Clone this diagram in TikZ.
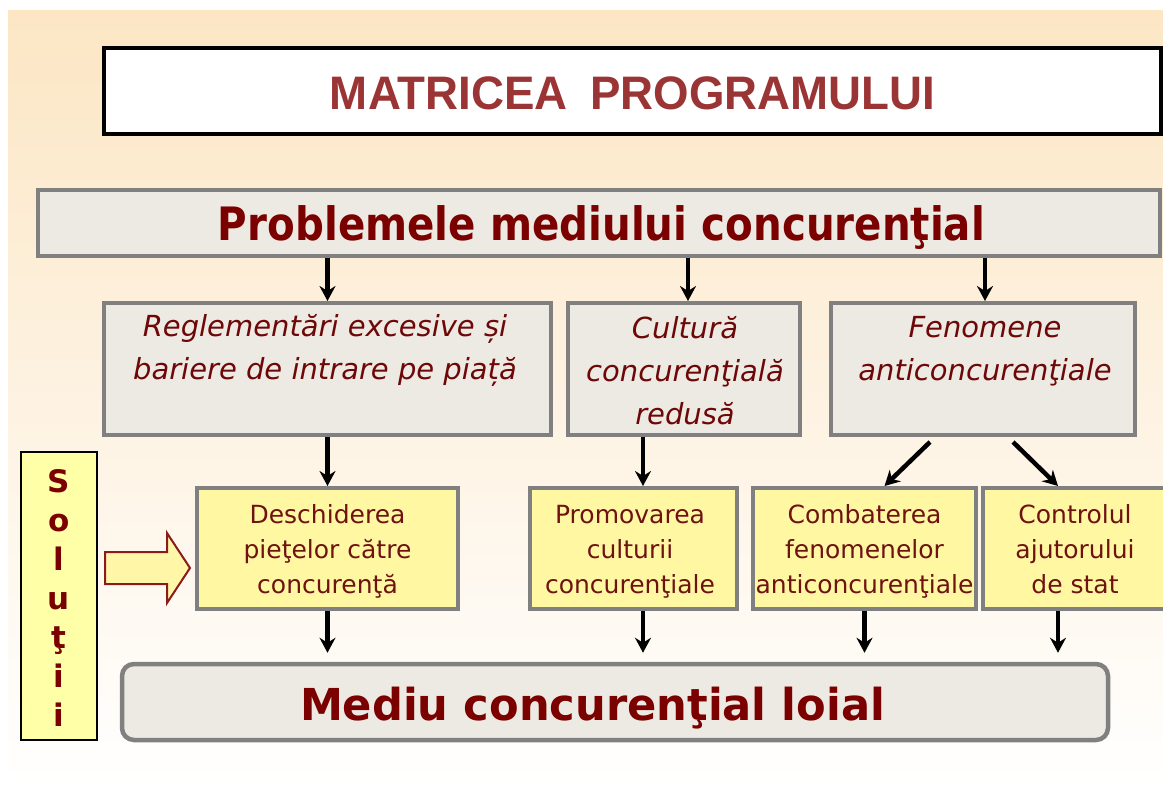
\documentclass[tikz,border=0pt]{standalone}
\usepackage{fontspec}
\usepackage{graphicx}
\usetikzlibrary{arrows.meta,calc}
\setmainfont{DejaVu Sans}
\newfontfamily\tah{DejaVu Sans}
\newfontfamily\ari{Liberation Sans}
\newcommand\hfit[2]{\resizebox{#1}{\height}{#2}}
\newcommand\tstrut[1]{\rule{0pt}{#1}}
\definecolor{bgtop}{HTML}{FCE6C4}
\definecolor{bgmid}{HTML}{FDF3E4}
\definecolor{grayfill}{HTML}{ECEAE2}
\definecolor{grayline}{HTML}{808080}
\definecolor{yel}{HTML}{FFF7A2}
\definecolor{yel2}{HTML}{FFFFA8}
\definecolor{dred}{HTML}{7B0000}
\definecolor{ired}{HTML}{6E0808}
\definecolor{yred}{HTML}{6E1212}
\definecolor{tred}{HTML}{9B3535}
\definecolor{ared}{HTML}{8B1A1A}
\definecolor{ayel}{HTML}{FFF6A8}
\tikzset{
  titlebox/.style={draw=black, line width=3.5pt, fill=white, inner sep=0pt},
  graybox/.style={draw=grayline, line width=4pt, fill=grayfill, inner sep=0pt},
  yelbox/.style={draw=grayline, line width=4pt, fill=yel, inner sep=0pt},
  solbox/.style={draw=black, line width=2pt, fill=yel2, inner sep=0pt},
  endbox/.style={draw=grayline, line width=4.5pt, fill=grayfill, rounded corners=12pt, inner sep=0pt},
  itxt/.style={anchor=north, inner sep=0pt, align=center, text=ired, font=\tah\itshape\fontsize{29}{43}\selectfont},
  ytxt/.style={anchor=north, inner sep=0pt, align=center, text=yred, font=\tah\fontsize{25}{35}\selectfont},
  arr/.style={draw=black, line width=4.5pt, -{Stealth[length=15pt,width=16pt,inset=5pt]}},
}
\begin{document}
\begin{tikzpicture}[x=1pt,y=-1pt]
\useasboundingbox (0,0) rectangle (1163,787);
\fill[white] (0,0) rectangle (1163,787);
\shade[top color=bgtop, middle color=bgmid, bottom color=white] (8,10) rectangle (1163,787);

% title
\node[titlebox, minimum width=1057pt, minimum height=86pt] (T) at (632.5,91) {};
\node[anchor=base, inner sep=0pt, text=tred, font=\ari\bfseries\fontsize{47}{47}\selectfont] (Tt) at (632.5,109) {\hfit{605pt}{MATRICEA\hspace{0.5em}PROGRAMULUI}};

% problems
\node[graybox, minimum width=1122pt, minimum height=66pt] (P) at (599,223) {};
\node[anchor=base, inner sep=0pt, text=dred, font=\tah\bfseries\fontsize{46}{46}\selectfont] (Pt) at (601.5,240) {\hfit{767pt}{Problemele mediului concurenţial}};

% row 2
\node[graybox, minimum width=447pt, minimum height=132pt] (A) at (327.5,369) {};
\node[graybox, minimum width=232pt, minimum height=132pt] (B) at (684,369) {};
\node[graybox, minimum width=304pt, minimum height=132pt] (C) at (983,369) {};
\node[itxt] (At) at (325,310) {\tstrut{26pt}Reglementări excesive și\\bariere de intrare pe piață};
\node[itxt] (Bt) at (685,312) {\tstrut{26pt}Cultură\\concurenţială\\redusă};
\node[itxt] (Ct) at (985,311) {\tstrut{26pt}Fenomene\\anticoncurenţiale};

% row 3
\node[yelbox, minimum width=261pt, minimum height=121pt] (Y1) at (327.5,548.5) {};
\node[yelbox, minimum width=207pt, minimum height=121pt] (Y2) at (633.5,548.5) {};
\node[yelbox, minimum width=223pt, minimum height=121pt] (Y3) at (864.5,548.5) {};
\node[yelbox, minimum width=184pt, minimum height=121pt] (Y4) at (1075,548.5) {};
\node[ytxt] (Y1t) at (327.5,503) {\tstrut{20pt}Deschiderea\\pieţelor către\\concurenţă};
\node[ytxt] (Y2t) at (630,503) {\tstrut{20pt}Promovarea\\culturii\\concurenţiale};
\node[ytxt] (Y3t) at (864.5,503) {\tstrut{20pt}Combaterea\\fenomenelor\\anticoncurenţiale};
\node[ytxt] (Y4t) at (1075,503) {\tstrut{20pt}Controlul\\ajutorului\\de stat};

% result
\node[endbox, minimum width=986pt, minimum height=76pt] (M) at (615,702) {};
\node[anchor=base, inner sep=0pt, text=dred, font=\tah\bfseries\fontsize{44}{44}\selectfont] (Mt) at (592.5,720) {\hfit{585pt}{Mediu concurenţial loial}};

% solutii
\node[solbox, minimum width=76pt, minimum height=288pt] (S) at (59,596) {};
\node[anchor=north, inner sep=0pt, align=center, text=dred, font=\tah\bfseries\fontsize{31}{39}\selectfont] (St) at (59,467) {\tstrut{25pt}S\\o\\l\\u\\ţ\\i\\i};

% block arrow
\draw[fill=ayel, draw=ared, line width=2pt, line join=miter]
  (105,552) -- (167,552) -- (167,533) -- (190,568) -- (167,603) -- (167,584) -- (105,584) -- cycle;

% connectors
\coordinate (bin) at ([xshift=4pt]B.north);
\coordinate (cin) at ([xshift=2pt]C.north);
\coordinate (y2in) at ([xshift=9.5pt]Y2.north);
\coordinate (y4in) at ([xshift=-17pt]Y4.north);
\draw[arr] (A.north |- P.south) -- (A.north);
\draw[arr] (bin |- P.south) -- (bin);
\draw[arr] (cin |- P.south) -- (cin);
\draw[arr] (A.south) -- (Y1.north);
\draw[arr] (y2in |- B.south) -- (y2in);
\draw[arr] ([xshift=-53pt,yshift=-5pt]C.south) -- ([xshift=20pt]Y3.north);
\draw[arr] ([xshift=30pt,yshift=-5pt]C.south) -- (y4in);
\draw[arr, shorten >=9pt] (Y1.south) -- (Y1.south |- M.north);
\draw[arr, shorten >=9pt] (y2in |- Y2.south) -- (y2in |- M.north);
\draw[arr, shorten >=9pt] (Y3.south) -- (Y3.south |- M.north);
\draw[arr, shorten >=9pt] (y4in |- Y4.south) -- (y4in |- M.north);
\end{tikzpicture}
\end{document}
